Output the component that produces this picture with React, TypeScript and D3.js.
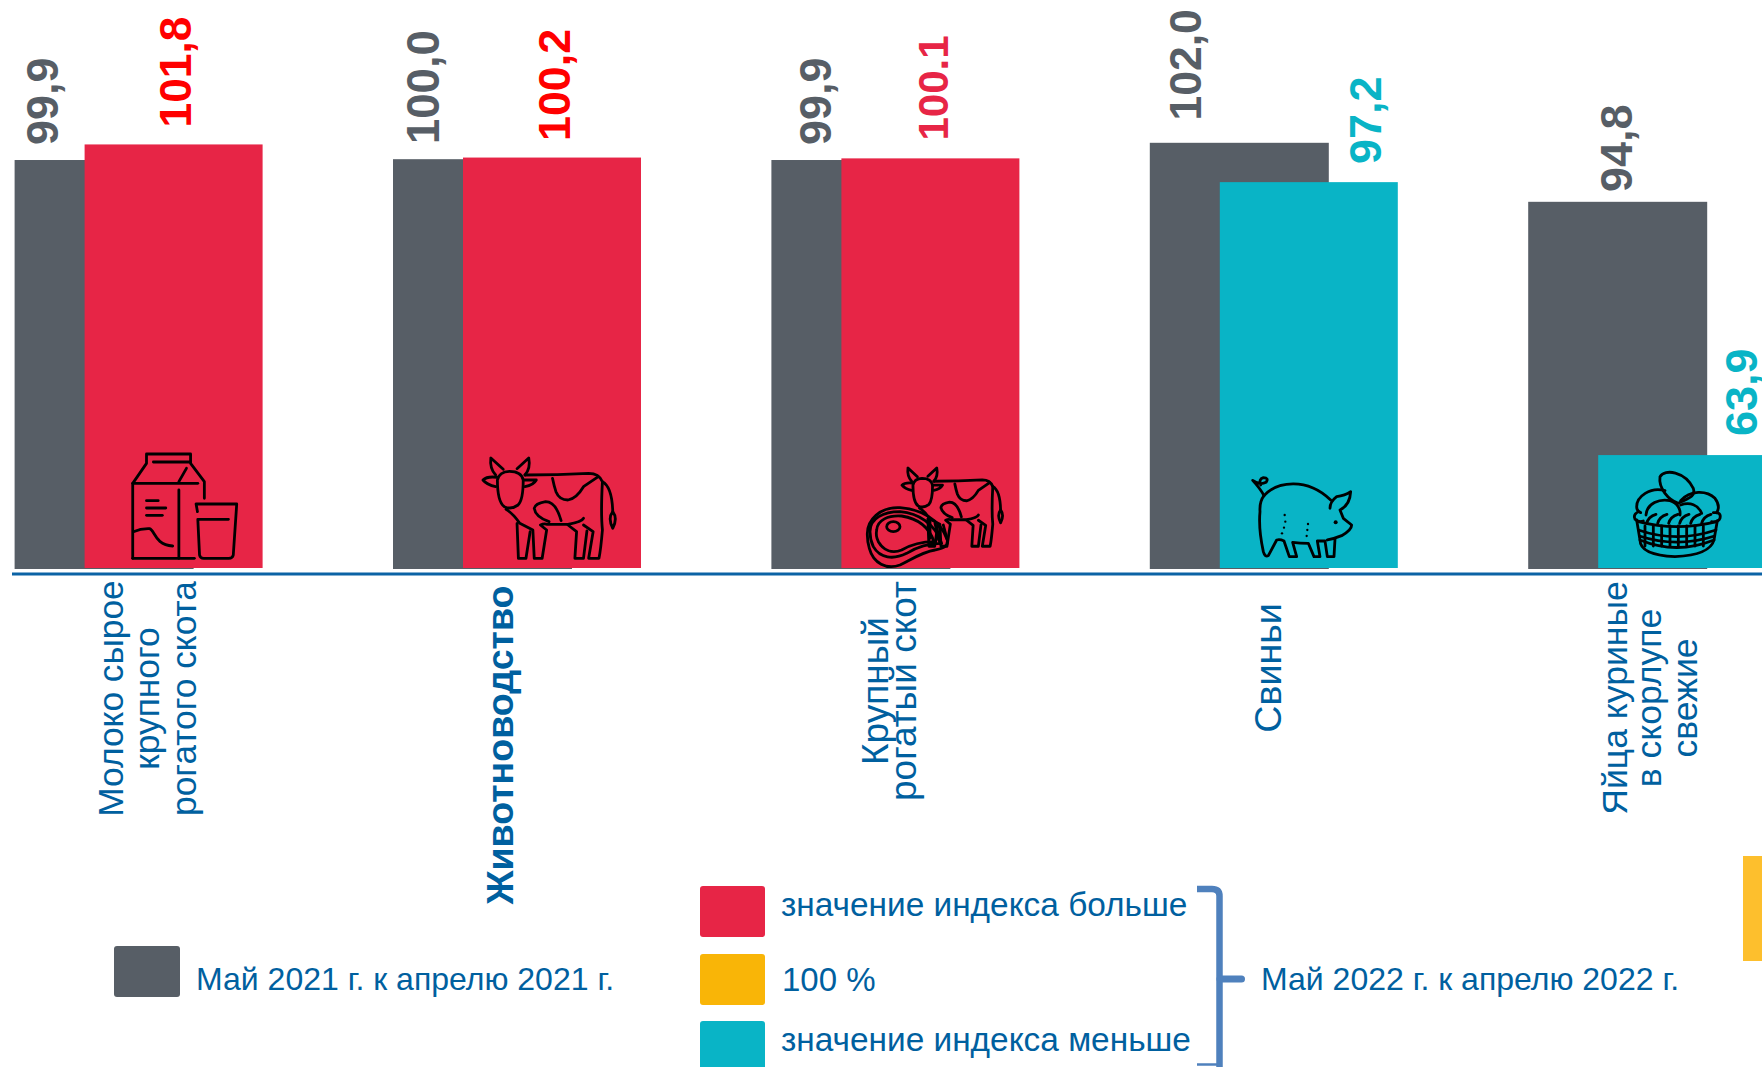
import React from "react";
import * as d3 from "d3";

const categories = ["milk", "livestock", "cattle", "pigs", "eggs"];
const categoryLines = [
  ["Молоко сырое", "крупного", "рогатого скота"],
  ["Животноводство"],
  ["Крупный", "рогатый скот"],
  ["Свиньи"],
  ["Яйца куриные", "в скорлупе", "свежие"],
];
const prevValues = [99.9, 100.0, 99.9, 102.0, 94.8];
const currValues = [101.8, 100.2, 100.1, 97.2, 63.9];
const prevLabels = ["99,9", "100,0", "99,9", "102,0", "94,8"];
const currLabels = ["101,8", "100,2", "100.1", "97,2", "63,9"];

const GRAY = "#575e66";
const RED = "#e72546";
const TEAL = "#09b4c6";
const YELLOW = "#f9b507";
const BLUE = "#00609f";
const FONT = "'Liberation Sans', Arial, sans-serif";

const currLabelColors = ["#ff0000", "#ff0000", RED, TEAL, TEAL];
const currLabelSizes = [44.3, 44.8, 42, 45, 45];
const prevLabelSizes = [45, 45.5, 45, 44.5, 45];
// label nudges
const prevLabelPos = [[58, 145], [439, 144], [830.5, 145], [1201, 120.5], [1632, 192]];
const currLabelPos = [[191, 127.5], [570, 141], [948, 140.5], [1381, 164], [1757, 436]];
const catLayout = [
  { cy: 698.5, xs: [123, 159.4, 196], size: 35.3 },
  { cy: 745, xs: [513.4], size: 37.6 },
  { cy: 691, xs: [888, 916], size: 37 },
  { cy: 668, xs: [1281], size: 37.6 },
  { cy: 698, xs: [1627, 1661, 1697], size: 35.6 },
];

const x = d3
  .scaleBand<string>()
  .domain(categories)
  .range([14.6, 14.6 + 4 * 378.4 + 179])
  .paddingInner(1 - 179 / 378.4)
  .paddingOuter(0);
const y = d3.scaleLinear().domain([50, 102]).range([569, 142.8]);

const Stroke = { fill: "none", stroke: "#000", strokeWidth: 2.8, strokeLinecap: "round", strokeLinejoin: "round", vectorEffect: "non-scaling-stroke" } as any;

function Paths({ d }: { d: string[] }) {
  return <>{d.map((p, i) => <path key={i} d={p} {...Stroke} />)}</>;
}

const milkPaths = [
  "M66 385 V160 L106 100 V72 H234 V100 L274 155 V205",
  "M66 160 H255", "M126 96 H232", "M200 155 L222 115", "M200 180 V385", "M66 385 H245",
  "M106 212 H140", "M106 234 H162", "M106 256 H152",
  "M68 305 Q90 295 115 296 C130 300 130 345 182 348",
  "M254 245 L250 222 H368 L358 375 Q356 385 345 385 H272 Q262 385 260 375 L255 268 H344",
];
const cowPaths = [
  "M1125 150 Q1130 125 1160 124 Q1195 124 1200 150 Q1200 210 1185 225 Q1165 240 1145 230 Q1125 215 1125 150 Z",
  "M1142 118 L1106 84 Q1102 115 1120 135", "M1182 116 L1216 84 Q1222 115 1205 135",
  "M1125 142 Q1095 138 1083 150 Q1095 165 1120 170", "M1200 150 H1238 Q1230 165 1205 170",
  "M1205 135 Q1300 135 1390 130 Q1420 130 1430 155 Q1425 250 1430 300 Q1425 360 1420 385 H1390 L1403 305 L1375 285",
  "M1430 155 Q1458 170 1460 245", "M1460 245 Q1445 265 1460 295 Q1475 265 1460 245Z",
  "M1285 145 Q1290 170 1295 185 Q1305 210 1330 210 Q1355 205 1375 170 L1418 140",
  "M1150 238 Q1170 250 1190 280 L1228 300 L1232 385 H1255 L1268 300 L1250 285 Q1260 280 1270 283 H1330 Q1370 275 1375 265",
  "M1182 280 L1186 385 H1208 L1220 305",
  "M1330 285 L1355 305 L1350 385 H1375 L1385 303",
  "M1310 272 Q1295 215 1265 215 Q1235 220 1232 235 Q1235 260 1275 275",
];
const meatPaths = [
  "M22 225 C20 180 60 140 120 143 C180 148 240 175 262 240 C265 262 245 265 225 270 C190 275 160 295 120 315 C80 330 40 310 28 265 C25 255 22 240 22 225Z",
  "M30 215 C30 175 70 155 120 155 C175 160 225 190 245 250 C215 250 180 255 140 280 C100 300 60 295 40 260 C33 245 30 230 30 215 Z",
  "M50 210 C52 180 85 165 125 168 C170 175 205 195 222 245 C190 245 160 250 125 270 C95 282 70 270 55 245 C50 235 48 220 50 210Z",
  "M210 180 V235", "M225 190 L240 250", "M250 195 L262 240", "M240 210 L225 250",
  "M80 200 A20 15 0 1 0 120 200 A20 15 0 1 0 80 200 Z",
];
const pigPaths = [
  "M72 92 Q62 72 38 46 Q60 62 78 52 Q88 38 70 38 Q55 42 62 60",
  "M72 92 C110 50 200 35 272 105",
  "M270 130 Q270 110 290 95 Q315 92 332 80 Q330 120 300 135 L310 160 L335 180 Q335 195 305 212 Q280 222 262 225",
  "M72 92 Q58 110 60 140 Q55 190 70 260 Q75 278 85 272 L110 225 Q120 222 132 228 L148 275 H170 L158 232 Q180 235 205 235 L222 275 H240 L232 228 H255 L262 275 H282 L285 222",
];
const pigDots = [[134, 150], [136, 170], [132, 188], [126, 205], [204, 177], [202, 195], [200, 213]];

const basketVerticals = d3.range(105, 305, 25);
const basketSlashes = d3.range(110, 300, 33);
const basketPaths = [
  "M150 50 C165 25 225 35 250 85 C258 110 235 115 205 130 C175 120 145 85 150 50 Z",
  "M165 92 C120 80 80 110 80 140 C80 150 85 155 92 158",
  "M212 122 C240 90 290 90 315 115 C330 135 325 150 320 158",
  "M108 165 C110 130 150 115 180 122 C205 130 212 150 210 165",
  "M212 135 C240 125 265 135 275 160",
  "M85 155 Q68 165 75 178 Q85 188 100 183",
  "M310 158 Q335 155 330 175 Q325 188 305 185",
  "M85 185 Q200 215 320 185",
  "M80 180 L90 240 Q200 285 312 240 L322 182",
  "M90 240 Q90 285 195 290 Q300 285 312 240",
  "M85 210 Q200 250 318 210",
  "M88 228 Q200 265 314 228",
];

function Icons() {
  const sx5 = 1 / 2.904, sy = 1 / 3;
  return (
    <g>
      <g transform={`translate(110,430) scale(${sx5},${sy})`}><Paths d={milkPaths} /></g>
      <g transform={`translate(110,430) scale(${sx5},${sy})`}><Paths d={cowPaths} /></g>
      <g transform={`translate(902,468) scale(0.76,0.78) translate(-483,-458) translate(110,430) scale(${sx5},${sy})`}><Paths d={cowPaths} /></g>
      <g transform="translate(860,460) scale(0.3333)"><Paths d={meatPaths} /></g>
      <g transform="translate(1240,465) scale(0.3333)">
        <Paths d={pigPaths} />
        <circle cx={287} cy={172} r={6} fill="#000" />
        {pigDots.map((d, i) => <circle key={i} cx={d[0]} cy={d[1]} r={3.5} fill="#000" />)}
      </g>
      <g transform="translate(1610,460) scale(0.3333)">
        <Paths d={basketPaths} />
        {basketVerticals.map((v) => <path key={v} d={`M${v} 198 V${258}`} {...Stroke} />)}
        {basketSlashes.map((v) => <path key={v} d={`M${v} 190 Q${v + 5} 170 ${v + 28} 163`} {...Stroke} />)}
      </g>
    </g>
  );
}

const BRACE = d3.path();
BRACE.moveTo(1197, 889);
BRACE.lineTo(1212, 889);
BRACE.quadraticCurveTo(1219.5, 889, 1219.5, 896);
BRACE.lineTo(1219.5, 1070);
const TIP = d3.path();
TIP.moveTo(1220, 979);
TIP.lineTo(1241.5, 979);
const FOOT = d3.path();
FOOT.moveTo(1197, 1064.5);
FOOT.lineTo(1218, 1064.5);

export default function App() {
  const bw = x.bandwidth();
  const currOffset = 70;
  const b0 = y(50);
  return (
    <svg width={1762} height={1067} viewBox="0 0 1762 1067" style={{ position: "fixed", left: 0, top: 0, display: "block", background: "#fff" }} fontFamily={FONT}>
      {categories.map((c, i) => (
        <rect key={c} x={x(c)} y={y(prevValues[i])} width={bw} height={b0 - y(prevValues[i])} fill={GRAY} />
      ))}
      {categories.map((c, i) => (
        <rect key={c} x={(x(c) as number) + currOffset} y={y(currValues[i])} width={bw - 1} height={b0 - 1 - y(currValues[i])} fill={currValues[i] >= 100 ? RED : TEAL} />
      ))}
      <line x1={12} x2={1762} y1={574} y2={574} stroke="#0b63a5" strokeWidth={3.2} />
      <Icons />
      {prevLabels.map((t, i) => (
        <text key={i} transform={`translate(${prevLabelPos[i][0]},${prevLabelPos[i][1]}) rotate(-90)`} fontSize={prevLabelSizes[i]} fontWeight="bold" fill={GRAY}>{t}</text>
      ))}
      {currLabels.map((t, i) => (
        <text key={i} transform={`translate(${currLabelPos[i][0]},${currLabelPos[i][1]}) rotate(-90)`} fontSize={currLabelSizes[i]} fontWeight="bold" fill={currLabelColors[i]}>{t}</text>
      ))}
      {categoryLines.map((lines, i) =>
        lines.map((t, j) => (
          <text key={t} transform={`translate(${catLayout[i].xs[j]},${catLayout[i].cy}) rotate(-90)`} textAnchor="middle" fontSize={catLayout[i].size} fontWeight={i === 1 ? "bold" : "normal"} fill={BLUE}>{t}</text>
        ))
      )}
      {/* legend */}
      <rect x={114} y={946} width={66} height={51} rx={3} fill={GRAY} />
      <text x={196} y={990} fontSize={32} fill={BLUE}>Май 2021 г. к апрелю 2021 г.</text>
      <rect x={700} y={886} width={65} height={51} rx={3} fill={RED} />
      <text x={781} y={916} fontSize={33.4} fill={BLUE}>значение индекса больше</text>
      <rect x={700} y={954} width={65} height={51} rx={3} fill={YELLOW} />
      <text x={782} y={991} fontSize={33} fill={BLUE}>100 %</text>
      <rect x={700} y={1021} width={65} height={60} rx={3} fill={TEAL} />
      <text x={781} y={1051} fontSize={33.4} fill={BLUE}>значение индекса меньше</text>
      <path d={BRACE.toString()} fill="none" stroke="#4f81bd" strokeWidth={6.5} />
      <path d={TIP.toString()} fill="none" stroke="#4f81bd" strokeWidth={7} strokeLinecap="round" />
      <path d={FOOT.toString()} fill="none" stroke="#4f81bd" strokeWidth={2.5} />
      <text x={1261} y={990} fontSize={32} fill={BLUE}>Май 2022 г. к апрелю 2022 г.</text>
      <rect x={1743} y={856} width={19} height={105} fill="#fdbf2d" />
    </svg>
  );
}
